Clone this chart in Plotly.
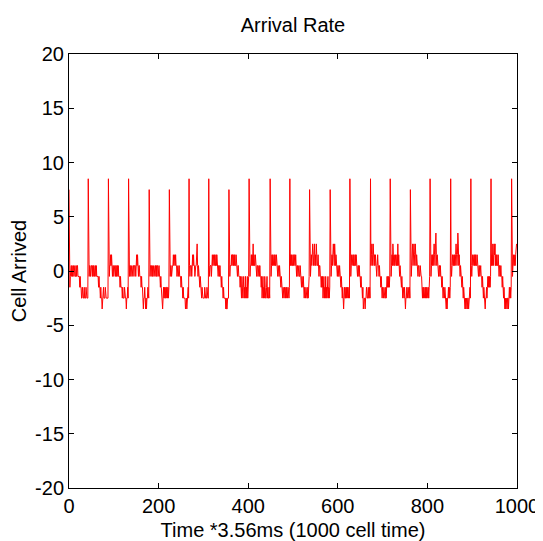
import plotly.graph_objects as go

# Start index of each segment (each segment after the first begins with a burst spike)
segment_starts = [0, 43, 88, 133, 179, 224, 268, 312, 357, 402, 449, 493,
                  537, 583, 627, 673, 717, 762, 806, 852, 897, 942, 988]

seg00 = [7.5, -0.5, -1.5, -0.5, 0.5, 0.5, -0.5, 0.5, -0.5, 0.5, 0.5, -0.5, 0.5, 0.5, -0.5, -0.5, 0.5, -0.5, 0.5, 0.5, -0.5, -0.5, -0.5, -0.5, -1.5, -0.5, -1.5, -1.5, -2.5, -2.5, -1.5, -2.5, -2.5, -2.5, -1.5, -2.5, -2.5, -2.5, -1.5, -2.5, -2.5, -2.5, -2.5]
seg01 = [8.5, 0.5, -0.5, 0.5, 0.5, -0.5, 0.5, 0.5, 0.5, -0.5, 0.5, -0.5, 0.5, 0.5, -0.5, 0.5, 0.5, -0.5, 0.5, -0.5, -0.5, -0.5, -0.5, -1.5, -0.5, -1.5, -1.5, -2.5, -1.5, -2.5, -2.5, -3.5, -2.5, -2.5, -1.5, -2.5, -2.5, -2.5, -1.5, -2.5, -2.5, -2.5, -2.5, -2.5, -2.5]
seg02 = [8.5, 0.5, -0.5, 0.5, 0.5, 1.5, 0.5, 1.5, 0.5, -0.5, 0.5, 0.5, -0.5, 0.5, 0.5, 0.5, -0.5, 0.5, -0.5, 0.5, 0.5, -0.5, 0.5, -0.5, -0.5, -0.5, -1.5, -0.5, -1.5, -1.5, -1.5, -2.5, -1.5, -2.5, -2.5, -2.5, -1.5, -2.5, -2.5, -2.5, -3.5, -2.5, -2.5, -1.5, -2.5]
seg03 = [8.5, 0.5, -0.5, 0.5, 0.5, -0.5, 0.5, 0.5, -0.5, 0.5, 0.5, 0.5, -0.5, 0.5, 0.5, 0.5, -0.5, 0.5, 1.5, 0.5, 1.5, 0.5, -0.5, 0.5, 0.5, -0.5, -0.5, -0.5, -1.5, -0.5, -1.5, -1.5, -2.5, -3.5, -2.5, -2.5, -1.5, -2.5, -3.5, -2.5, -3.5, -2.5, -2.5, -1.5, -2.5, -2.5]
seg04 = [7.5, 0.5, -0.5, 0.5, 0.5, 0.5, -0.5, 0.5, -0.5, 0.5, 0.5, -0.5, 0.5, 0.5, 0.5, -0.5, 0.5, -0.5, 0.5, 0.5, -0.5, 0.5, 0.5, -0.5, -0.5, -1.5, -0.5, -1.5, -2.5, -2.5, -3.5, -2.5, -1.5, -2.5, -1.5, -2.5, -2.5, -1.5, -2.5, -1.5, -1.5, -2.5, -1.5, -2.5, -1.5]
seg05 = [7.5, 0.5, -0.5, 0.5, 0.5, -0.5, 0.5, 0.5, 0.5, 1.5, 0.5, 1.5, 1.5, 0.5, 1.5, 0.5, 0.5, -0.5, 0.5, 0.5, -0.5, 0.5, 0.5, -0.5, -0.5, -0.5, -1.5, -0.5, -1.5, -1.5, -2.5, -1.5, -2.5, -2.5, -2.5, -2.5, -3.5, -2.5, -2.5, -3.5, -2.5, -2.5, -1.5, -2.5]
seg06 = [8.5, 0.5, -0.5, 0.5, 0.5, 0.5, -0.5, 0.5, 1.5, 0.5, 1.5, 0.5, 0.5, -0.5, 0.5, 0.5, 0.5, 1.5, 2.5, 0.5, -0.5, 0.5, -0.5, -0.5, -1.5, -0.5, -1.5, -2.5, -2.5, -1.5, -2.5, -2.5, -2.5, -2.5, -2.5, -1.5, -2.5, -2.5, -2.5, -2.5, -1.5, -2.5, -2.5, -2.5]
seg07 = [8.5, 0.5, -0.5, 0.5, 0.5, 0.5, -0.5, 0.5, 1.5, 0.5, 1.5, 1.5, 0.5, 1.5, 0.5, 0.5, 1.5, 0.5, 1.5, 0.5, 0.5, -0.5, 0.5, 0.5, -0.5, 0.5, -0.5, -0.5, -1.5, -0.5, -1.5, -1.5, -2.5, -1.5, -2.5, -2.5, -2.5, -2.5, -3.5, -2.5, -3.5, -3.5, -2.5, -2.5, -2.5]
seg08 = [7.5, 0.5, -0.5, 0.5, 0.5, 0.5, 1.5, 0.5, 1.5, 1.5, 0.5, 1.5, 0.5, 1.5, 0.5, 0.5, 1.5, 0.5, 0.5, -0.5, 0.5, 0.5, -0.5, -0.5, -0.5, -1.5, -0.5, -1.5, -2.5, -0.5, -1.5, -2.5, -1.5, -0.5, -2.5, -1.5, -2.5, -0.5, -2.5, -1.5, -2.5, -0.5, -2.5, -1.5, -0.5]
seg09 = [8.5, 0.5, -0.5, 0.5, 0.5, 1.5, 0.5, 1.5, 0.5, 2.5, 0.5, 1.5, 0.5, 0.5, 1.5, 0.5, 0.5, -0.5, 0.5, 0.5, -0.5, 0.5, 0.5, -0.5, 0.5, -0.5, -0.5, -1.5, -0.5, -2.5, -1.5, -0.5, -2.5, -1.5, -2.5, -0.5, -1.5, -2.5, -2.5, -1.5, -0.5, -2.5, -1.5, -2.5, -2.5, -1.5, -2.5]
seg10 = [8.5, 0.5, -0.5, 0.5, 1.5, 0.5, 1.5, 0.5, 1.5, 1.5, 0.5, 1.5, 0.5, 0.5, 1.5, 0.5, 0.5, -0.5, 0.5, -0.5, -0.5, 0.5, -0.5, -0.5, -1.5, -0.5, -1.5, -1.5, -2.5, -1.5, -2.5, -2.5, -1.5, -2.5, -2.5, -1.5, -2.5, -1.5, -2.5, -2.5, -1.5, -2.5, -2.5, -1.5]
seg11 = [8.5, 0.5, 1.5, 0.5, 1.5, 0.5, 0.5, 1.5, 0.5, 1.5, 1.5, 0.5, 0.5, 1.5, 0.5, -0.5, 0.5, 0.5, -0.5, 0.5, 0.5, -0.5, -0.5, 0.5, -0.5, -0.5, -1.5, -0.5, -1.5, -1.5, -0.5, -1.5, -2.5, -1.5, -2.5, -2.5, -1.5, -2.5, -2.5, -2.5, -1.5, -2.5, -1.5, -0.5]
seg12 = [7.5, 0.5, -0.5, 0.5, 1.5, 0.5, 1.5, 2.5, 1.5, 0.5, 1.5, 2.5, 0.5, 1.5, 0.5, 2.5, 1.5, 0.5, 0.5, 1.5, 0.5, -0.5, 0.5, 0.5, -0.5, -0.5, -1.5, -0.5, -1.5, -0.5, -2.5, -1.5, -0.5, -2.5, -1.5, -2.5, -0.5, -2.5, -1.5, -2.5, -1.5, -0.5, -2.5, -1.5, -2.5, -1.5]
seg13 = [7.5, 0.5, -0.5, 0.5, 1.5, 0.5, 1.5, 2.5, 1.5, 0.5, 2.5, 1.5, 0.5, 1.5, 0.5, 0.5, -0.5, 0.5, 0.5, -0.5, -0.5, 0.5, -0.5, -0.5, -1.5, -0.5, -1.5, -2.5, -1.5, -2.5, -3.5, -2.5, -1.5, -2.5, -2.5, -1.5, -2.5, -1.5, -2.5, -1.5, -2.5, -2.5, -1.5, -2.5]
seg14 = [8.5, 0.5, -0.5, 0.5, 1.5, 0.5, 1.5, 1.5, 0.5, 1.5, 0.5, 0.5, 1.5, 0.5, 1.5, 0.5, 0.5, -0.5, 0.5, 0.5, -0.5, 0.5, -0.5, -0.5, -1.5, -0.5, -1.5, -1.5, -2.5, -1.5, -3.5, -2.5, -2.5, -2.5, -3.5, -2.5, -2.5, -1.5, -2.5, -2.5, -2.5, -1.5, -2.5, -2.5, -1.5, -2.5]
seg15 = [8.5, 0.5, 1.5, 2.5, 0.5, 1.5, 2.5, 1.5, 0.5, 1.5, 0.5, 1.5, 0.5, 0.5, -0.5, 0.5, 1.5, 0.5, 0.5, -0.5, 0.5, -0.5, -0.5, -1.5, -0.5, -1.5, -2.5, -1.5, -2.5, -2.5, -1.5, -2.5, -2.5, -2.5, -1.5, -2.5, -1.5, -0.5, -1.5, -0.5, -1.5, -0.5, -1.5, -0.5]
seg16 = [8.5, 0.5, -0.5, 0.5, 1.5, 0.5, 2.5, 1.5, 0.5, 1.5, 0.5, 0.5, 1.5, 0.5, 0.5, 1.5, 0.5, 2.5, 0.5, 1.5, 0.5, -0.5, 0.5, -0.5, -0.5, -1.5, -0.5, -1.5, -2.5, -1.5, -2.5, -2.5, -1.5, -2.5, -3.5, -2.5, -2.5, -1.5, -2.5, -2.5, -1.5, -2.5, -2.5, -1.5, -2.5]
seg17 = [7.5, 0.5, -0.5, 0.5, 1.5, 2.5, 0.5, 1.5, 2.5, 1.5, 0.5, 2.5, 1.5, 0.5, 1.5, 0.5, 0.5, -0.5, 0.5, 0.5, -0.5, -0.5, 0.5, -0.5, -0.5, -0.5, -1.5, -2.5, -1.5, -2.5, -1.5, -2.5, -2.5, -1.5, -2.5, -1.5, -2.5, -1.5, -2.5, -2.5, -1.5, -2.5, -1.5, -0.5]
seg18 = [8.5, 0.5, -0.5, 0.5, 1.5, 0.5, 1.5, 0.5, 1.5, 2.5, 1.5, 0.5, 2.5, 3.5, 1.5, 0.5, 1.5, 0.5, 0.5, -0.5, 0.5, 0.5, -0.5, 0.5, -0.5, -0.5, -1.5, -0.5, -1.5, -2.5, -1.5, -2.5, -2.5, -1.5, -2.5, -2.5, -3.5, -2.5, -3.5, -2.5, -2.5, -1.5, -2.5, -1.5, -2.5, -1.5]
seg19 = [8.5, 0.5, -0.5, 0.5, 1.5, 0.5, 0.5, 1.5, 0.5, 1.5, 0.5, 1.5, 2.5, 1.5, 0.5, 1.5, 3.5, 2.5, 0.5, 1.5, 0.5, -0.5, 0.5, -0.5, -0.5, -1.5, -0.5, -1.5, -2.5, -1.5, -2.5, -2.5, -3.5, -2.5, -3.5, -2.5, -3.5, -3.5, -2.5, -2.5, -3.5, -2.5, -2.5, -1.5, -2.5]
seg20 = [8.5, 0.5, -0.5, 0.5, 1.5, 0.5, 1.5, 1.5, 0.5, 1.5, 0.5, 1.5, 0.5, 0.5, 1.5, 0.5, 0.5, -0.5, 0.5, 0.5, -0.5, 0.5, 0.5, -0.5, -0.5, -1.5, -0.5, -1.5, -2.5, -1.5, -2.5, -2.5, -3.5, -2.5, -2.5, -1.5, -2.5, -1.5, -0.5, -1.5, -0.5, -1.5, -0.5, -1.5, -0.5]
seg21 = [8.5, 0.5, 1.5, 0.5, 2.5, 1.5, 0.5, 2.5, 1.5, 2.5, 0.5, 1.5, 0.5, 1.5, 0.5, 0.5, 1.5, 0.5, -0.5, 0.5, 0.5, -0.5, 0.5, -0.5, -0.5, -1.5, -0.5, -1.5, -2.5, -1.5, -2.5, -3.5, -2.5, -3.5, -2.5, -3.5, -3.5, -2.5, -2.5, -3.5, -2.5, -1.5, -2.5, -1.5, -2.5, -1.5]
seg22 = [8.5, 0.5, -0.5, 0.5, 1.5, 0.5, 0.5, 1.5, 0.5, 1.5, 2.5, 2.5]

segments = [seg00, seg01, seg02, seg03, seg04, seg05, seg06, seg07, seg08, seg09, seg10,
            seg11, seg12, seg13, seg14, seg15, seg16, seg17, seg18, seg19, seg20, seg21, seg22]

x_ticks = [0, 200, 400, 600, 800, 1000]
y_ticks = [-20, -15, -10, -5, 0, 5, 10, 15, 20]

times = []
arrivals = []
for start, seg in zip(segment_starts, segments):
    for i, v in enumerate(seg):
        times.append(start + i)
        arrivals.append(v)

FONT = "Liberation Sans, Arial, Helvetica, sans-serif"

fig = go.Figure()
fig.add_trace(go.Scatter(x=times, y=arrivals, mode="lines",
                         line=dict(color="#ff0000", width=1), showlegend=False))

axis_common = dict(showline=True, linecolor="black", linewidth=1, mirror="ticks",
                   ticks="inside", ticklen=5, tickcolor="black", tickwidth=1,
                   showgrid=False, zeroline=False, automargin=False,
                   tickfont=dict(family=FONT, size=20, color="black"))

# The page body adds an 8px offset; the figure fills the rest of the 543x541 window.
fig.update_layout(
    width=535, height=533,
    margin=dict(l=61, r=26, t=46, b=53),
    paper_bgcolor="white", plot_bgcolor="white",
    title=dict(text="Arrival Rate", x=0.5, xref="paper", y=1 - 17 / 533, yref="container",
               xanchor="center", yanchor="middle",
               font=dict(family=FONT, size=20, color="black")),
    xaxis=dict(range=[0, 1000], tickvals=x_ticks, ticktext=[str(v) for v in x_ticks],
               title=dict(text="Time *3.56ms (1000 cell time)", standoff=8,
                          font=dict(family=FONT, size=20, color="black")),
               **axis_common),
    yaxis=dict(range=[-20, 20], tickvals=y_ticks, ticktext=[str(v) for v in y_ticks],
               title=dict(text="Cell Arrived", standoff=6,
                          font=dict(family=FONT, size=20, color="black")),
               **axis_common),
)

fig.write_html("out.html")
